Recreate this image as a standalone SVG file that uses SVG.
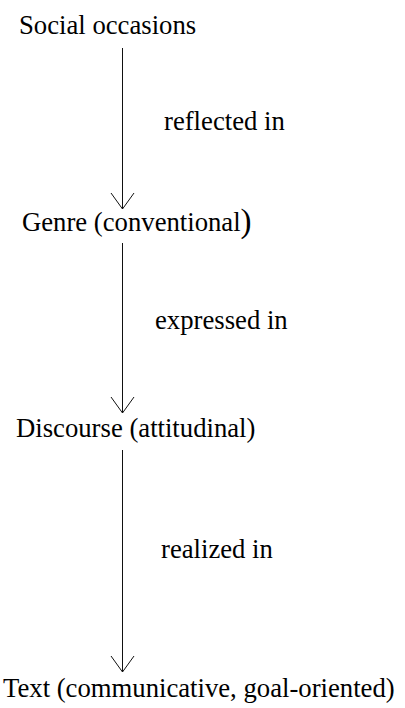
<svg xmlns="http://www.w3.org/2000/svg" width="405" height="708" viewBox="0 0 405 708" font-family="'Liberation Serif', 'Times New Roman', Times, serif">
<style>
text{font-family:'Liberation Serif', Tinos, 'Times New Roman', Times, serif;font-size:26.7px;fill:#000}
.c line,.c polyline{stroke:#111;stroke-width:1;fill:none}
</style>
<rect width="405" height="708" fill="#fff"/>
<g id="n1"><text x="19" y="34">Social occasions</text></g>
<g id="n2"><text x="22" y="231">Genre (conventional<tspan font-size="33" dy="1">)</tspan></text></g>
<g id="n3"><text x="16" y="437">Discourse (attitudinal)</text></g>
<g id="n4"><text x="3" y="697">Text (communicative, goal-oriented)</text></g>
<g class="c" id="connectors">
<line x1="122.5" y1="48" x2="122.5" y2="209"/>
<polyline points="111,193 122.5,209 134,193"/>
<line x1="122.5" y1="243" x2="122.5" y2="413"/>
<polyline points="111,397 122.5,413 134,397"/>
<line x1="122.5" y1="450" x2="122.5" y2="672"/>
<polyline points="111,656 122.5,672 134,656"/>
</g>
<g id="labels">
<text x="164" y="130">reflected in</text>
<text x="155" y="329">expressed in</text>
<text x="161" y="558">realized in</text>
</g>
</svg>
